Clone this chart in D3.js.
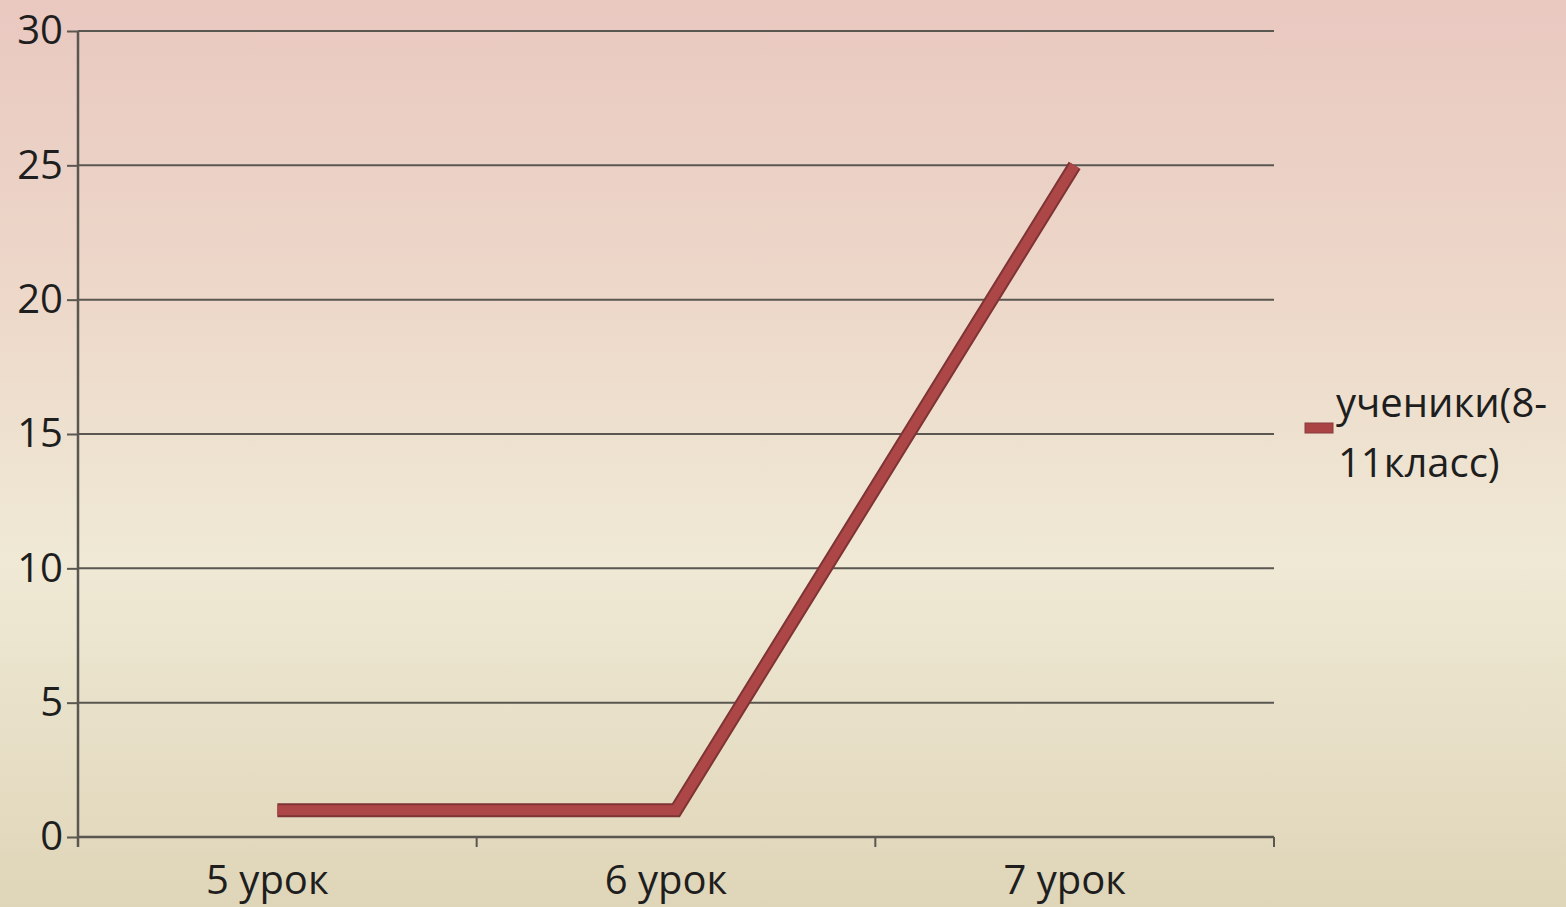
<!DOCTYPE html>
<html>
<head>
<meta charset="utf-8">
<script src="https://cdn.jsdelivr.net/npm/d3@7"></script>
<style>
  html, body { margin: 0; padding: 0; overflow: hidden; }
  svg { display: block; }
</style>
</head>
<body>
<script>
// Lesson slots and the number of pupils in each
const categories = ["5 урок", "6 урок", "7 урок"];
const pupils = [1, 1, 25];
const seriesName = ["ученики(8-", "11класс)"];
const yTicks = [0, 5, 10, 15, 20, 25, 30];

const W = 1566, H = 907;
const margin = { left: 78, right: 292, top: 31, bottom: 70 };
const font = "'Open Sans', 'Liberation Sans', sans-serif";
const fontSize = 40;
const textColor = "#1e1e1e";

const svg = d3.select("body").append("svg").attr("width", W).attr("height", H);

// Background gradient: rose at top fading to cream and tan
const defs = svg.append("defs");
const grad = defs.append("linearGradient").attr("id", "bg").attr("x1", 0).attr("y1", 0).attr("x2", 0).attr("y2", 1);
grad.append("stop").attr("offset", "0%").attr("stop-color", "#E9C8C0");
grad.append("stop").attr("offset", "35%").attr("stop-color", "#EDD9CA");
grad.append("stop").attr("offset", "62%").attr("stop-color", "#EFE9D5");
grad.append("stop").attr("offset", "100%").attr("stop-color", "#DFD5B8");
svg.append("rect").attr("width", W).attr("height", H).attr("fill", "url(#bg)");

const x = d3.scaleBand().domain(categories).range([margin.left, W - margin.right]).padding(0);
const y = d3.scaleLinear().domain([0, 30]).range([H - margin.bottom, margin.top]);

const gridColor = "#5a5650";

// Horizontal gridlines
svg.append("g").selectAll("line").data(yTicks.filter(d => d > 0)).join("line")
  .attr("x1", margin.left).attr("x2", W - margin.right)
  .attr("y1", d => y(d)).attr("y2", d => y(d))
  .attr("stroke", gridColor).attr("stroke-width", 2);

// Y axis
const yAxis = svg.append("g").attr("transform", `translate(${margin.left},0)`)
  .call(d3.axisLeft(y).tickValues(yTicks).tickSize(11).tickPadding(4));
yAxis.select(".domain").attr("stroke", gridColor).attr("stroke-width", 2.5)
  .attr("d", `M0,${y(30)}V${y(0) + 10}`);
yAxis.selectAll(".tick line").attr("stroke", gridColor).attr("stroke-width", 2);
yAxis.selectAll(".tick text").attr("font-family", font).attr("font-size", fontSize).attr("fill", textColor);

// X axis with ticks at category boundaries
const xAxisG = svg.append("g").attr("transform", `translate(0,${y(0)})`);
xAxisG.append("line").attr("x1", margin.left).attr("x2", W - margin.right)
  .attr("stroke", gridColor).attr("stroke-width", 2.5);
const bounds = categories.map(c => x(c)).concat([x(categories[categories.length - 1]) + x.bandwidth()]);
xAxisG.selectAll("line.tk").data(bounds).join("line").attr("class", "tk")
  .attr("x1", d => d).attr("x2", d => d).attr("y1", 0).attr("y2", 10)
  .attr("stroke", gridColor).attr("stroke-width", 2);
xAxisG.selectAll("text").data(categories).join("text")
  .attr("x", d => x(d) + x.bandwidth() / 2 - 10).attr("y", 57)
  .attr("text-anchor", "middle").attr("font-family", font).attr("font-size", fontSize).attr("fill", textColor)
  .text(d => d);

// Series line: dark edge under a lighter red core
const line = d3.line().x((d, i) => x(categories[i]) + x.bandwidth() / 2).y(d => y(d));
svg.append("path").datum(pupils).attr("d", line).attr("fill", "none")
  .attr("stroke", "#7e3434").attr("stroke-width", 14).attr("stroke-linejoin", "miter");
svg.append("path").datum(pupils).attr("d", line).attr("fill", "none")
  .attr("stroke", "#AD4646").attr("stroke-width", 10).attr("stroke-linejoin", "miter");

// Legend
const lg = svg.append("g");
lg.append("rect").attr("x", 1305).attr("y", 423).attr("width", 28).attr("height", 10)
  .attr("fill", "#AA4444").attr("stroke", "#8a3a3a").attr("stroke-width", 1);
lg.selectAll("text").data(seriesName).join("text")
  .attr("x", (d, i) => i === 0 ? 1336 : 1338).attr("y", (d, i) => 417 + i * 60)
  .attr("font-family", font).attr("font-size", fontSize).attr("fill", textColor)
  .text(d => d);
</script>
</body>
</html>
